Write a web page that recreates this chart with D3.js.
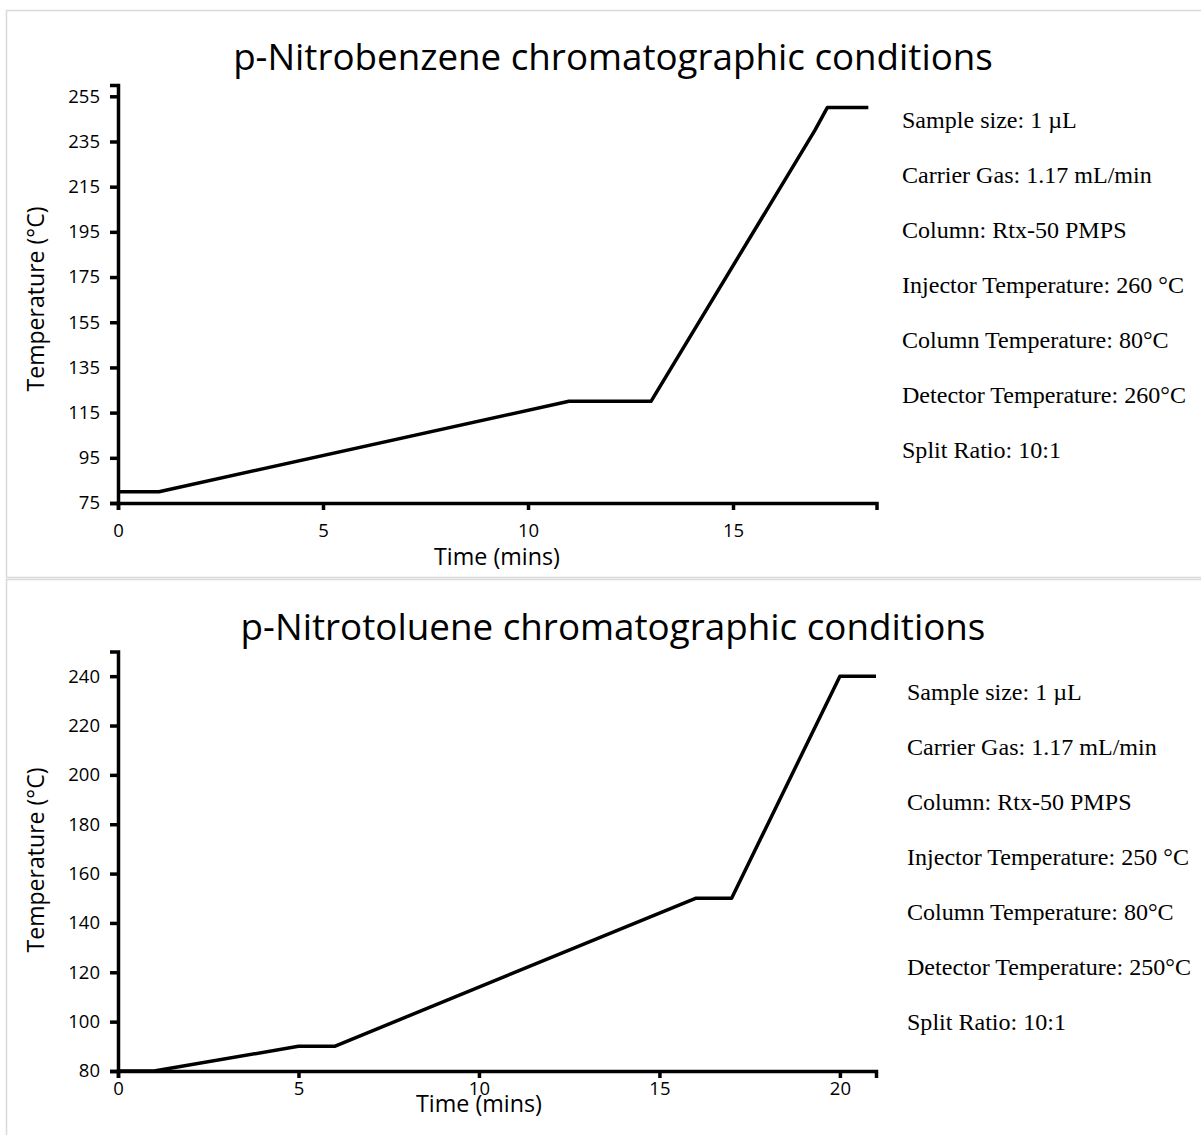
<!DOCTYPE html>
<html>
<head>
<meta charset="utf-8">
<script src="https://cdn.jsdelivr.net/npm/d3@7"></script>
<style>
  body { margin: 0; background: #fff; }
  text { fill: #000; }
</style>
</head>
<body>
<div id="chart"></div>
<script>
// p-Nitrobenzene oven program
const benzTime = [0, 1, 11, 13, 17, 17.3, 18.3];
const benzTemp = [80, 80, 120, 120, 240, 250, 250];
const benzTicksY = [75, 95, 115, 135, 155, 175, 195, 215, 235, 255];
const benzTicksX = [0, 5, 10, 15];
const benzNotes = [
  "Sample size: 1 \u00b5L",
  "Carrier Gas: 1.17 mL/min",
  "Column: Rtx-50 PMPS",
  "Injector Temperature: 260 \u00b0C",
  "Column Temperature: 80\u00b0C",
  "Detector Temperature: 260\u00b0C",
  "Split Ratio: 10:1"
];

// p-Nitrotoluene oven program
const tolTime = [0, 1, 5, 6, 16, 17, 20, 21];
const tolTemp = [80, 80, 90, 90, 150, 150, 240, 240];
const tolTicksY = [80, 100, 120, 140, 160, 180, 200, 220, 240];
const tolTicksX = [0, 5, 10, 15, 20];
const tolNotes = [
  "Sample size: 1 \u00b5L",
  "Carrier Gas: 1.17 mL/min",
  "Column: Rtx-50 PMPS",
  "Injector Temperature: 250 \u00b0C",
  "Column Temperature: 80\u00b0C",
  "Detector Temperature: 250\u00b0C",
  "Split Ratio: 10:1"
];

const W = 1201, H = 1135;
const sans = "'Open Sans', 'Noto Sans', sans-serif";
const serif = "'Liberation Serif', 'DejaVu Serif', serif";

const svg = d3.select("#chart").append("svg")
    .attr("width", W)
    .attr("height", H);

// scale a text's font so it spans the width seen in the picture
function fitText(sel, width) {
  const len = sel.node().getComputedTextLength();
  const size = parseFloat(sel.attr("font-size"));
  sel.attr("font-size", size * width / len);
}

function drawPanel(p) {
  svg.append("rect")
      .attr("x", 6.5).attr("y", p.frameTop + 0.5)
      .attr("width", W + 20).attr("height", p.frameH)
      .attr("fill", "none")
      .attr("stroke", "#d9d9d9")
      .attr("stroke-width", 1.5);

  const x = d3.scaleLinear().domain(p.xDomain).range([118, p.xEnd]);
  const y = d3.scaleLinear().domain(p.yDomain).range([p.yBottom, p.yTop]);

  const title = svg.append("text")
      .attr("x", p.titleX).attr("y", p.titleY)
      .attr("text-anchor", "middle")
      .attr("font-family", sans)
      .attr("font-size", 30)
      .text(p.title);
  fitText(title, p.titleW);

  const yAxis = svg.append("g")
      .attr("transform", `translate(${x(0)},0)`)
      .call(d3.axisLeft(y).tickValues(p.ticksY).tickSize(8).tickPadding(10).tickFormat(d3.format("d")));

  const xAxis = svg.append("g")
      .attr("transform", `translate(0,${y(p.yDomain[0])})`)
      .call(d3.axisBottom(x).tickValues(p.ticksX).tickSize(7).tickPadding(p.xPad).tickFormat(d3.format("d")));

  [yAxis, xAxis].forEach(a => {
    a.attr("font-size", 18.5).attr("font-family", sans);
    a.select(".domain").attr("stroke", "#000").attr("stroke-width", 3.5);
    a.selectAll(".tick line").attr("stroke", "#000").attr("stroke-width", 3.5);
    a.selectAll(".tick text").attr("fill", "#000");
  });

  const line = d3.line()
      .x((d, i) => x(p.time[i]))
      .y(d => y(d));

  svg.append("path")
      .datum(p.temp)
      .attr("fill", "none")
      .attr("stroke", "#000")
      .attr("stroke-width", 3.5)
      .attr("stroke-linejoin", "round")
      .attr("d", line);

  const yLab = svg.append("text")
      .attr("transform", `translate(44,${p.yLabelY}) rotate(-90)`)
      .attr("text-anchor", "middle")
      .attr("font-family", sans)
      .attr("font-size", 18)
      .text("Temperature (\u00b0C)");
  fitText(yLab, 185);

  const xLab = svg.append("text")
      .attr("x", p.xLabelX).attr("y", p.xLabelY)
      .attr("text-anchor", "middle")
      .attr("font-family", sans)
      .attr("font-size", 18)
      .text("Time (mins)");
  fitText(xLab, 126);

  const notes = svg.append("g").selectAll("text")
    .data(p.notes)
    .enter().append("text")
      .attr("x", p.noteX)
      .attr("y", (d, i) => p.noteY + i * 55)
      .attr("font-family", serif)
      .attr("font-size", 19.5)
      .text(d => d);
  // match the widest note line, then use the same size for all
  const ref = notes.filter((d, i) => i === 3);
  fitText(ref, 282);
  notes.attr("font-size", ref.attr("font-size"));
}

drawPanel({
  title: "p-Nitrobenzene chromatographic conditions",
  frameTop: 10, frameH: 567,
  titleX: 613, titleY: 70, titleW: 760,
  xDomain: [0, 18.5], xEnd: 876.5,
  yDomain: [75, 260], yBottom: 503, yTop: 85,
  ticksX: benzTicksX, ticksY: benzTicksY,
  time: benzTime, temp: benzTemp,
  xPad: 14,
  yLabelY: 299, xLabelX: 497, xLabelY: 565,
  notes: benzNotes, noteX: 902, noteY: 128
});

drawPanel({
  title: "p-Nitrotoluene chromatographic conditions",
  frameTop: 579, frameH: 600,
  titleX: 613, titleY: 640, titleW: 745,
  xDomain: [0, 21], xEnd: 876,
  yDomain: [80, 250], yBottom: 1071, yTop: 651.5,
  ticksX: tolTicksX, ticksY: tolTicksY,
  time: tolTime, temp: tolTemp,
  xPad: 4,
  yLabelY: 860, xLabelX: 479, xLabelY: 1112,
  notes: tolNotes, noteX: 907, noteY: 700
});
</script>
</body>
</html>
